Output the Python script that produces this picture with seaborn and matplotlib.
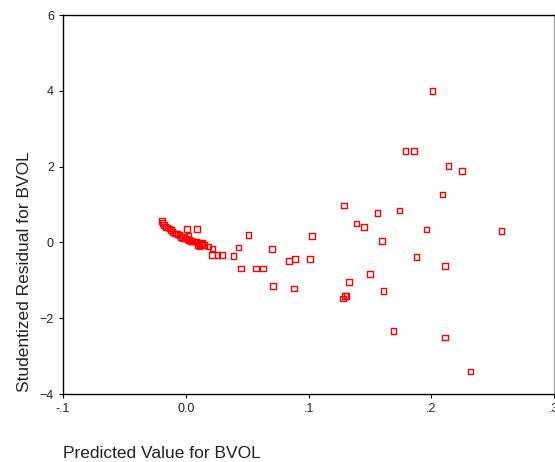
import numpy as np
import pandas as pd
import seaborn as sns
import matplotlib
matplotlib.use("Agg")
import matplotlib.pyplot as plt

# cluster near zero plus the scattered points
predicted = [
    -0.0194, -0.0188, -0.0177, -0.0167, -0.0148, -0.0134, -0.0120, -0.0107,
    -0.0093, -0.0080, -0.0067, -0.0053, -0.0039, -0.0026, -0.0012, 0.0001,
    0.0015, 0.0028, 0.0042, 0.0055, 0.0069, 0.0083, 0.0096, 0.0110,
    0.0124, 0.0137, 0.0150, 0.0110, 0.0096,
    0.0010, 0.0091, 0.0023, 0.0185, 0.0218, 0.0213, 0.0259, 0.0294,
    0.051, 0.043, 0.070, 0.039, 0.084, 0.089, 0.045, 0.057, 0.063, 0.071, 0.088,
    0.201, 0.179, 0.186, 0.214, 0.225, 0.209, 0.129, 0.156, 0.174, 0.139,
    0.145, 0.103, 0.196, 0.257, 0.160, 0.101, 0.188, 0.211, 0.150, 0.133,
    0.161, 0.131, 0.1295, 0.128, 0.169, 0.211, 0.232,
]
residual = [
    0.565, 0.52, 0.46, 0.41, 0.40, 0.37, 0.33, 0.28,
    0.24, 0.24, 0.22, 0.195, 0.15, 0.11, 0.15, 0.11,
    0.08, 0.06, 0.045, 0.02, 0.02, 0.02, -0.01, -0.02,
    -0.04, -0.02, -0.07, -0.11, -0.07,
    0.35, 0.35, 0.17, -0.11, -0.16, -0.33, -0.33, -0.33,
    0.20, -0.13, -0.17, -0.36, -0.49, -0.43, -0.69, -0.69, -0.69, -1.15, -1.22,
    4.00, 2.42, 2.42, 2.02, 1.89, 1.26, 0.97, 0.77, 0.84, 0.50,
    0.41, 0.17, 0.34, 0.30, 0.04, -0.43, -0.39, -0.62, -0.83, -1.05,
    -1.28, -1.41, -1.41, -1.48, -2.34, -2.51, -3.40,
]

x_ticks = [-0.1, 0.0, 0.1, 0.2, 0.3]
x_tick_labels = ["-.1", "0.0", ".1", ".2", ".3"]
y_ticks = [-4, -2, 0, 2, 4, 6]

df = pd.DataFrame({"pred": predicted, "resid": residual})

sns.set_style("ticks")
plt.rcParams["font.family"] = ["Liberation Sans", "DejaVu Sans"]

fig = plt.figure(figsize=(5.55, 4.62), dpi=100)
ax = fig.add_axes([0.1135, 0.147, 0.885, 0.8205])

sns.scatterplot(data=df, x="pred", y="resid", ax=ax, marker="s", s=16,
                facecolor="none", edgecolor="red", linewidth=1.0)

ax.set_xlim(-0.1, 0.3)
ax.set_ylim(-4, 6)
ax.set_xticks(x_ticks)
ax.set_xticklabels(x_tick_labels)
ax.set_yticks(y_ticks)
ax.tick_params(labelsize=9, length=3, width=0.8, color="black", labelcolor="#222222")
for name, sp in ax.spines.items():
    sp.set_linewidth(1.0)
    sp.set_color("black")
ax.spines["right"].set_color("#aaaaaa")

ax.set_xlabel("")
ax.set_ylabel("Studentized Residual for BVOL", fontsize=12.5, color="#222222")
# label sits low, starting near the bottom of the axis like the original
ax.yaxis.set_label_coords(-0.064, 0.322)
fig.text(63 / 555, 1 - 453 / 462, "Predicted Value for BVOL", fontsize=12.5,
         color="#222222", ha="left", va="center")

fig.savefig("out.png", dpi=100)
